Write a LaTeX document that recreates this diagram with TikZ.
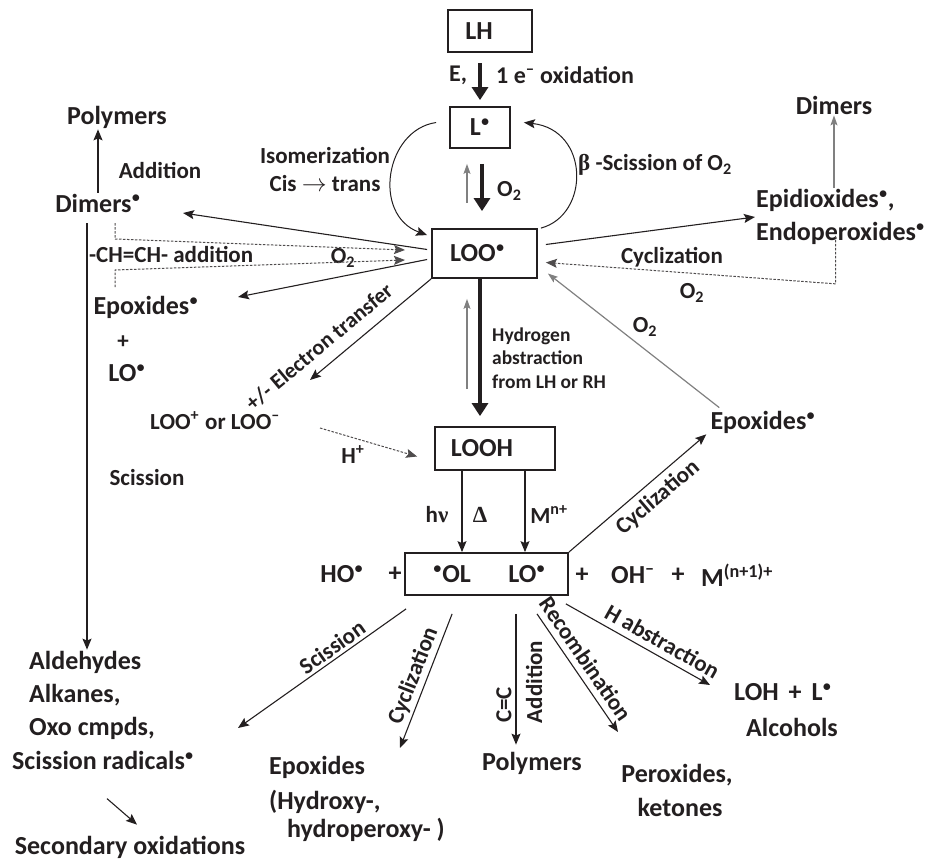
\documentclass[tikz,border=0pt]{standalone}
\usepackage{fontspec}
\setmainfont{Carlito}
\newfontfamily\symf{Liberation Serif}
\usetikzlibrary{arrows.meta,calc}
\definecolor{ink}{HTML}{231F20}
\definecolor{gry}{HTML}{808080}
\newcommand{\rdot}{\ensuremath{^{\bullet}}}
\begin{document}
\begin{tikzpicture}[x=1pt,y=-1pt,
 every node/.style={text=ink,inner sep=1pt},
 big/.style={font=\bfseries\fontsize{26}{31}\selectfont},
 lbl/.style={font=\bfseries\fontsize{23}{28}\selectfont},
 sml/.style={font=\bfseries\fontsize{19.5}{23.5}\selectfont},
 boxn/.style={draw=ink,line width=1.8pt,inner sep=0pt,big},
 arr/.style={draw=ink,line width=1.1pt,-{Stealth[length=11pt,width=9pt,inset=2pt]}},
 garr/.style={draw=gry,line width=1.2pt,-{Stealth[length=10pt,width=7pt,inset=2pt]}},
 fatarr/.style={draw=ink,line width=4pt,-{Triangle[length=13pt,width=16pt]}},
 dotarr/.style={draw=ink!80,line width=1pt,dash pattern=on 2.5pt off 1.5pt,-{Stealth[length=11pt,width=9pt,inset=2pt]}},
 curvarr/.style={draw=ink,line width=1pt,-{Stealth[length=11pt,width=9pt,inset=2pt]}},
]
\useasboundingbox (0,0) rectangle (930,859);

% boxes
\node[boxn,minimum width=84pt,minimum height=42pt] (lh) at (490,31) {LH\hspace*{22pt}};
\node[boxn,minimum width=60pt,minimum height=41pt] (lt) at (480,127.5) {L\rdot};
\node[boxn,minimum width=105pt,minimum height=49pt] (loo) at (484.5,253.5) {LOO\rdot\hspace*{14pt}};
\node[boxn,minimum width=120pt,minimum height=43pt] (looh) at (495,448.5) {LOOH\hspace*{26pt}};
\node[boxn,minimum width=163pt,minimum height=42pt] (rad) at (486.5,574) {};
\node[big] (ol) at (452,574) {\rdot OL};
\node[big] (lo) at (527,574) {LO\rdot};

% top chain
\draw[fatarr] ($(lt.north)+(0,-43)$) -- ($(lt.north)+(0,-6)$);
\node[lbl,font=\bfseries\fontsize{24}{28}\selectfont] (eco) at (458,75) {E,};
\node[lbl,anchor=west,font=\bfseries\fontsize{24}{28}\selectfont] (oxd) at (495,75) {1 e\textsuperscript{–} oxidation};
\draw[fatarr] ($(lt.south)+(2,15)$) -- ($(loo.north)+(-2.5,-17)$);
\draw[garr] ($(lt.south)+(-13,54)$) -- ($(lt.south)+(-13,15)$);
\node[lbl,anchor=west] (o2a) at ($(lt.south)+(16,42)$) {O\textsubscript{2}};
\draw[fatarr] ($(loo.south)+(-4.5,0)$) -- ($(looh.north)+(-15,-10)$);
\draw[garr] ($(looh.north)+(-28,-37)$) -- ($(loo.south)+(-17.5,20)$);
\node[sml,anchor=west,align=left] (habs) at (491,358) {Hydrogen\\abstraction\\from LH or RH};

% curves
\draw[curvarr] ($(lt.west)+(-13,-5)$) .. controls (385,130) and (372,215) .. ($(loo.north west)+(-4,7)$);
\draw[curvarr] ($(loo.north east)+(3,0)$) .. controls (590,215) and (590,130) .. ($(lt.east)+(13,-5)$);
\node[lbl,align=center] (iso) at (325,169) {Isomerization\\Cis $\rightarrow$ trans};
\node[lbl,anchor=west] (bsc) at (577,165) {{\symf β} -Scission of O\textsubscript{2}};

% left side
\node[big] (polL) at (117,117) {Polymers};
\node[big] (dimL) at (98,203) {Dimers\rdot};
\node[lbl] (addL) at (160,170) {Addition};
\draw[arr] (dimL.north) -- (dimL.north |- polL.south);
\node[lbl,anchor=west] (chch) at (88,254) {-CH=CH- addition};
\node[lbl] (o2L) at (343,258) {O\textsubscript{2}};
\node[big] (epL) at (146,307) {Epoxides\rdot};
\node[lbl] (plusL) at (123,342) {+};
\node[big] (loL) at (127,373) {LO\rdot};
\node[lbl] (lpm) at (215,421) {LOO\textsuperscript{+}\hspace{6pt}or LOO\textsuperscript{–}};
\node[lbl] (scL) at (147,478) {Scission};
\coordinate (dimtip) at (183,213);
\coordinate (eptip) at (238,297);
\draw[arr] ($(loo.west)+(-4,-4)$) -- (dimtip);
\draw[arr] ($(loo.west)+(-4,6)$) -- (eptip);
\draw[dotarr] (115,223) -- (115,239) -- (405,250);
\draw[dotarr] (115,287) -- (115,270) -- (405,260);

\node[big,anchor=west] (ald) at (28,662) {Aldehydes};
\node[big,anchor=west] (alk) at (28,695) {Alkanes,};
\node[big,anchor=west] (oxo) at (28,728) {Oxo cmpds,};
\node[big,anchor=west] (scr) at (11,760) {Scission radicals\rdot};
\node[big] (sec) at (130,847) {Secondary oxidations};
\coordinate (vtop) at (87,223);
\draw[arr] (vtop) -- (vtop |- ald.north);
\draw[arr] ($(sec.north)+(-23,-36)$) -- ($(sec.north)+(7,-10)$);

% electron transfer
\coordinate (etip) at (310,380);
\draw[arr] (loo.south west) -- (etip) node[lbl,pos=0.82,above=10pt,sloped,font=\bfseries\fontsize{22}{26}\selectfont] {+/- Electron transfer};
\coordinate (hstart) at (320,428);
\draw[dotarr] (hstart) -- ($(looh.west)+(-17,8)$);
\node[lbl] (hp) at (353,455) {H\textsuperscript{+}};

% right side
\node[big] (dimR) at (834,105) {Dimers};
\node[big,anchor=west,align=left,font=\bfseries\fontsize{26}{33}\selectfont] (epi) at (755,217) {Epidioxides\rdot,\\Endoperoxides\rdot};
\draw[garr] (epi.north -| dimR.south) -- (dimR.south);
\draw[arr] ($(loo.east)+(8,-9)$) -- (epi.west);
\draw[dotarr] ($(epi.south)+(-5,-10)$) -- ++(0,48) -- ($(loo.east)+(8,9)$);
\node[lbl] (cycR) at (672,257) {Cyclization};
\node[lbl] (o2R) at (692,293) {O\textsubscript{2}};
\node[big] (epR) at (763,422) {Epoxides\rdot};
\draw[garr] ($(epR.north west)+(10,-2)$) -- ($(loo.east)+(10,20)$);
\node[lbl] (o2m) at (645,327) {O\textsubscript{2}};

% LOOH to radicals
\draw[arr] ($(looh.south)+(-33,0)$) -- ($(rad.north)+(-24.5,0)$);
\draw[arr] ($(looh.south)+(30,0)$) -- ($(rad.north)+(38.5,0)$);
\node[lbl] (hnu) at (437,515) {h{\symf ν}};
\node[lbl] (delt) at (480,515) {{\symf Δ}};
\node[lbl] (mn) at (549,515) {M\textsuperscript{n+}};

\node[big] (ho) at (342,574) {HO\rdot};
\node[big] (pl1) at (395,574) {+};
\node[big] (pl2) at (582,575) {+};
\node[big] (ohm) at (633,575) {OH\textsuperscript{–}};
\node[big] (pl3) at (678,575) {+};
\node[big] (mn1) at (737,575) {M\textsuperscript{(n+1)+}};

\draw[arr] (rad.north east) -- ($(epR.south west)+(-3,0)$) node[lbl,pos=0.57,below=5pt,sloped] {Cyclization};

% bottom products
\node[big,anchor=west] (epB) at (268,767) {Epoxides};
\node[big,anchor=west] (hyd) at (268,802) {(Hydroxy-,};
\node[big,anchor=west] (hyp) at (286,830) {hydroperoxy- )};
\node[big] (polB) at (532,763) {Polymers};
\node[big] (perx) at (677,775) {Peroxides,};
\node[big] (ket) at (680,807) {ketones};
\node[big] (loh) at (783,692) {LOH\hspace{10pt}+\hspace{10pt}L\rdot};
\node[big] (alc) at (792,727) {Alcohols};

\coordinate (scTip) at (238,728);
\coordinate (cyTip) at (400,748);
\coordinate (recTip) at (618,732);
\coordinate (hTip) at (710,685);
\draw[arr] ($(rad.south west)+(2,13)$) -- (scTip) node[lbl,pos=0.4,above=2pt,sloped] {Scission};
\draw[arr] ($(rad.south west)+(48,18)$) -- (cyTip) node[lbl,pos=0.5,above=2pt,sloped] {Cyclization};
\draw[arr] ($(rad.south)+(29.5,18)$) -- ($(polB.north)+(-16,-6)$);
\node[lbl,rotate=90] (ccl) at (504,705) {C=C};
\node[lbl,rotate=90] (addB) at (534,682) {Addition};
\draw[arr] ($(rad.south)+(50.5,18)$) -- (recTip) node[lbl,pos=0.45,above=5pt,sloped] {Recombination};
\draw[arr] ($(rad.south east)+(-3,8)$) -- (hTip) node[lbl,pos=0.62,above=5pt,sloped] {H abstraction};
\end{tikzpicture}
\end{document}
